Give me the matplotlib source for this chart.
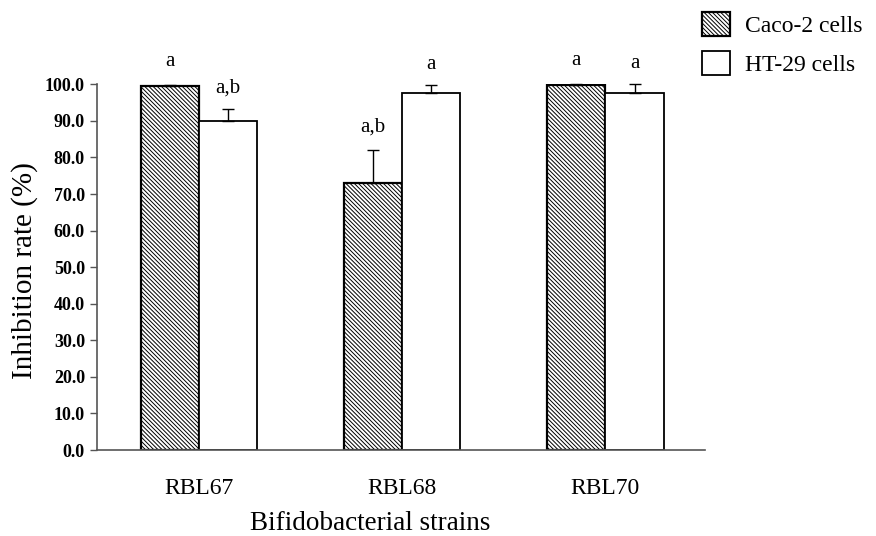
import numpy as np
import matplotlib
matplotlib.use("Agg")
import matplotlib.pyplot as plt

## Donnees
souches = ["RBL67", "RBL68", "RBL70"]
caco = [99.6, 73.0, 99.8]
caco_err = [0.2, 9.0, 0.3]
ht29 = [90.0, 97.5, 97.7]
ht29_err = [3.3, 2.3, 2.3]
lettres_caco = ["a", "a,b", "a"]
lettres_ht29 = ["a,b", "a", "a"]

plt.rcParams['font.family'] = ['Liberation Serif', 'DejaVu Serif']
plt.rcParams['hatch.linewidth'] = 0.7

fig = plt.figure(figsize=(8.76, 5.36), dpi=100)
ax = fig.add_axes([0.1113, 0.1604, 0.6935, 0.6823])

x = np.arange(len(souches))
w = 0.286
b1 = ax.bar(x - w/2, caco, w, color='white', edgecolor='black', linewidth=1.6,
            hatch='\\' * 8, label='Caco-2 cells')
b2 = ax.bar(x + w/2, ht29, w, color='white', edgecolor='black', linewidth=1.3,
            label='HT-29 cells')
ax.errorbar(x - w/2, caco, yerr=[np.zeros(3), caco_err], fmt='none', ecolor='black',
            elinewidth=1.0, capsize=4.5, capthick=1.0, clip_on=False)
ax.errorbar(x + w/2, ht29, yerr=[np.zeros(3), ht29_err], fmt='none', ecolor='black',
            elinewidth=1.0, capsize=4.5, capthick=1.0, clip_on=False)

for i in range(len(souches)):
    ax.annotate(lettres_caco[i], (x[i] - w/2, caco[i] + caco_err[i]), xytext=(0, 10),
                textcoords='offset points', ha='center', va='bottom', fontsize=15)
    ax.annotate(lettres_ht29[i], (x[i] + w/2, ht29[i] + ht29_err[i]), xytext=(0, 8),
                textcoords='offset points', ha='center', va='bottom', fontsize=15)

ax.set_xlim(-0.5, 2.49)
ax.set_ylim(0, 100)
ax.set_yticks(np.arange(0, 101, 10))
ax.set_yticklabels(["%.1f" % v for v in np.arange(0, 101, 10)], fontweight='bold', fontsize=13)
ax.set_xticks(x)
ax.set_xticklabels(souches, fontsize=17)
ax.tick_params(axis='x', length=0, pad=20)
ax.tick_params(axis='y', length=5, width=1, color='#555555', pad=4)

for s in ['top', 'right']:
    ax.spines[s].set_visible(False)
for s in ['left', 'bottom']:
    ax.spines[s].set_color('#555555')
    ax.spines[s].set_linewidth(1.2)

ax.set_ylabel("Inhibition rate (%)", fontsize=21)
ax.yaxis.set_label_coords(-0.098, 0.49)
ax.set_xlabel("Bifidobacterial strains", fontsize=19.5)
ax.xaxis.set_label_coords(0.449, -0.168)

fig.legend(handles=[b1, b2], loc='upper left', bbox_to_anchor=(0.796, 0.987),
           frameon=False, fontsize=17, handlelength=1.2, handleheight=1.2,
           handletextpad=0.6, labelspacing=0.6, borderpad=0.1, borderaxespad=0.1)

fig.savefig("out.png", dpi=100)
